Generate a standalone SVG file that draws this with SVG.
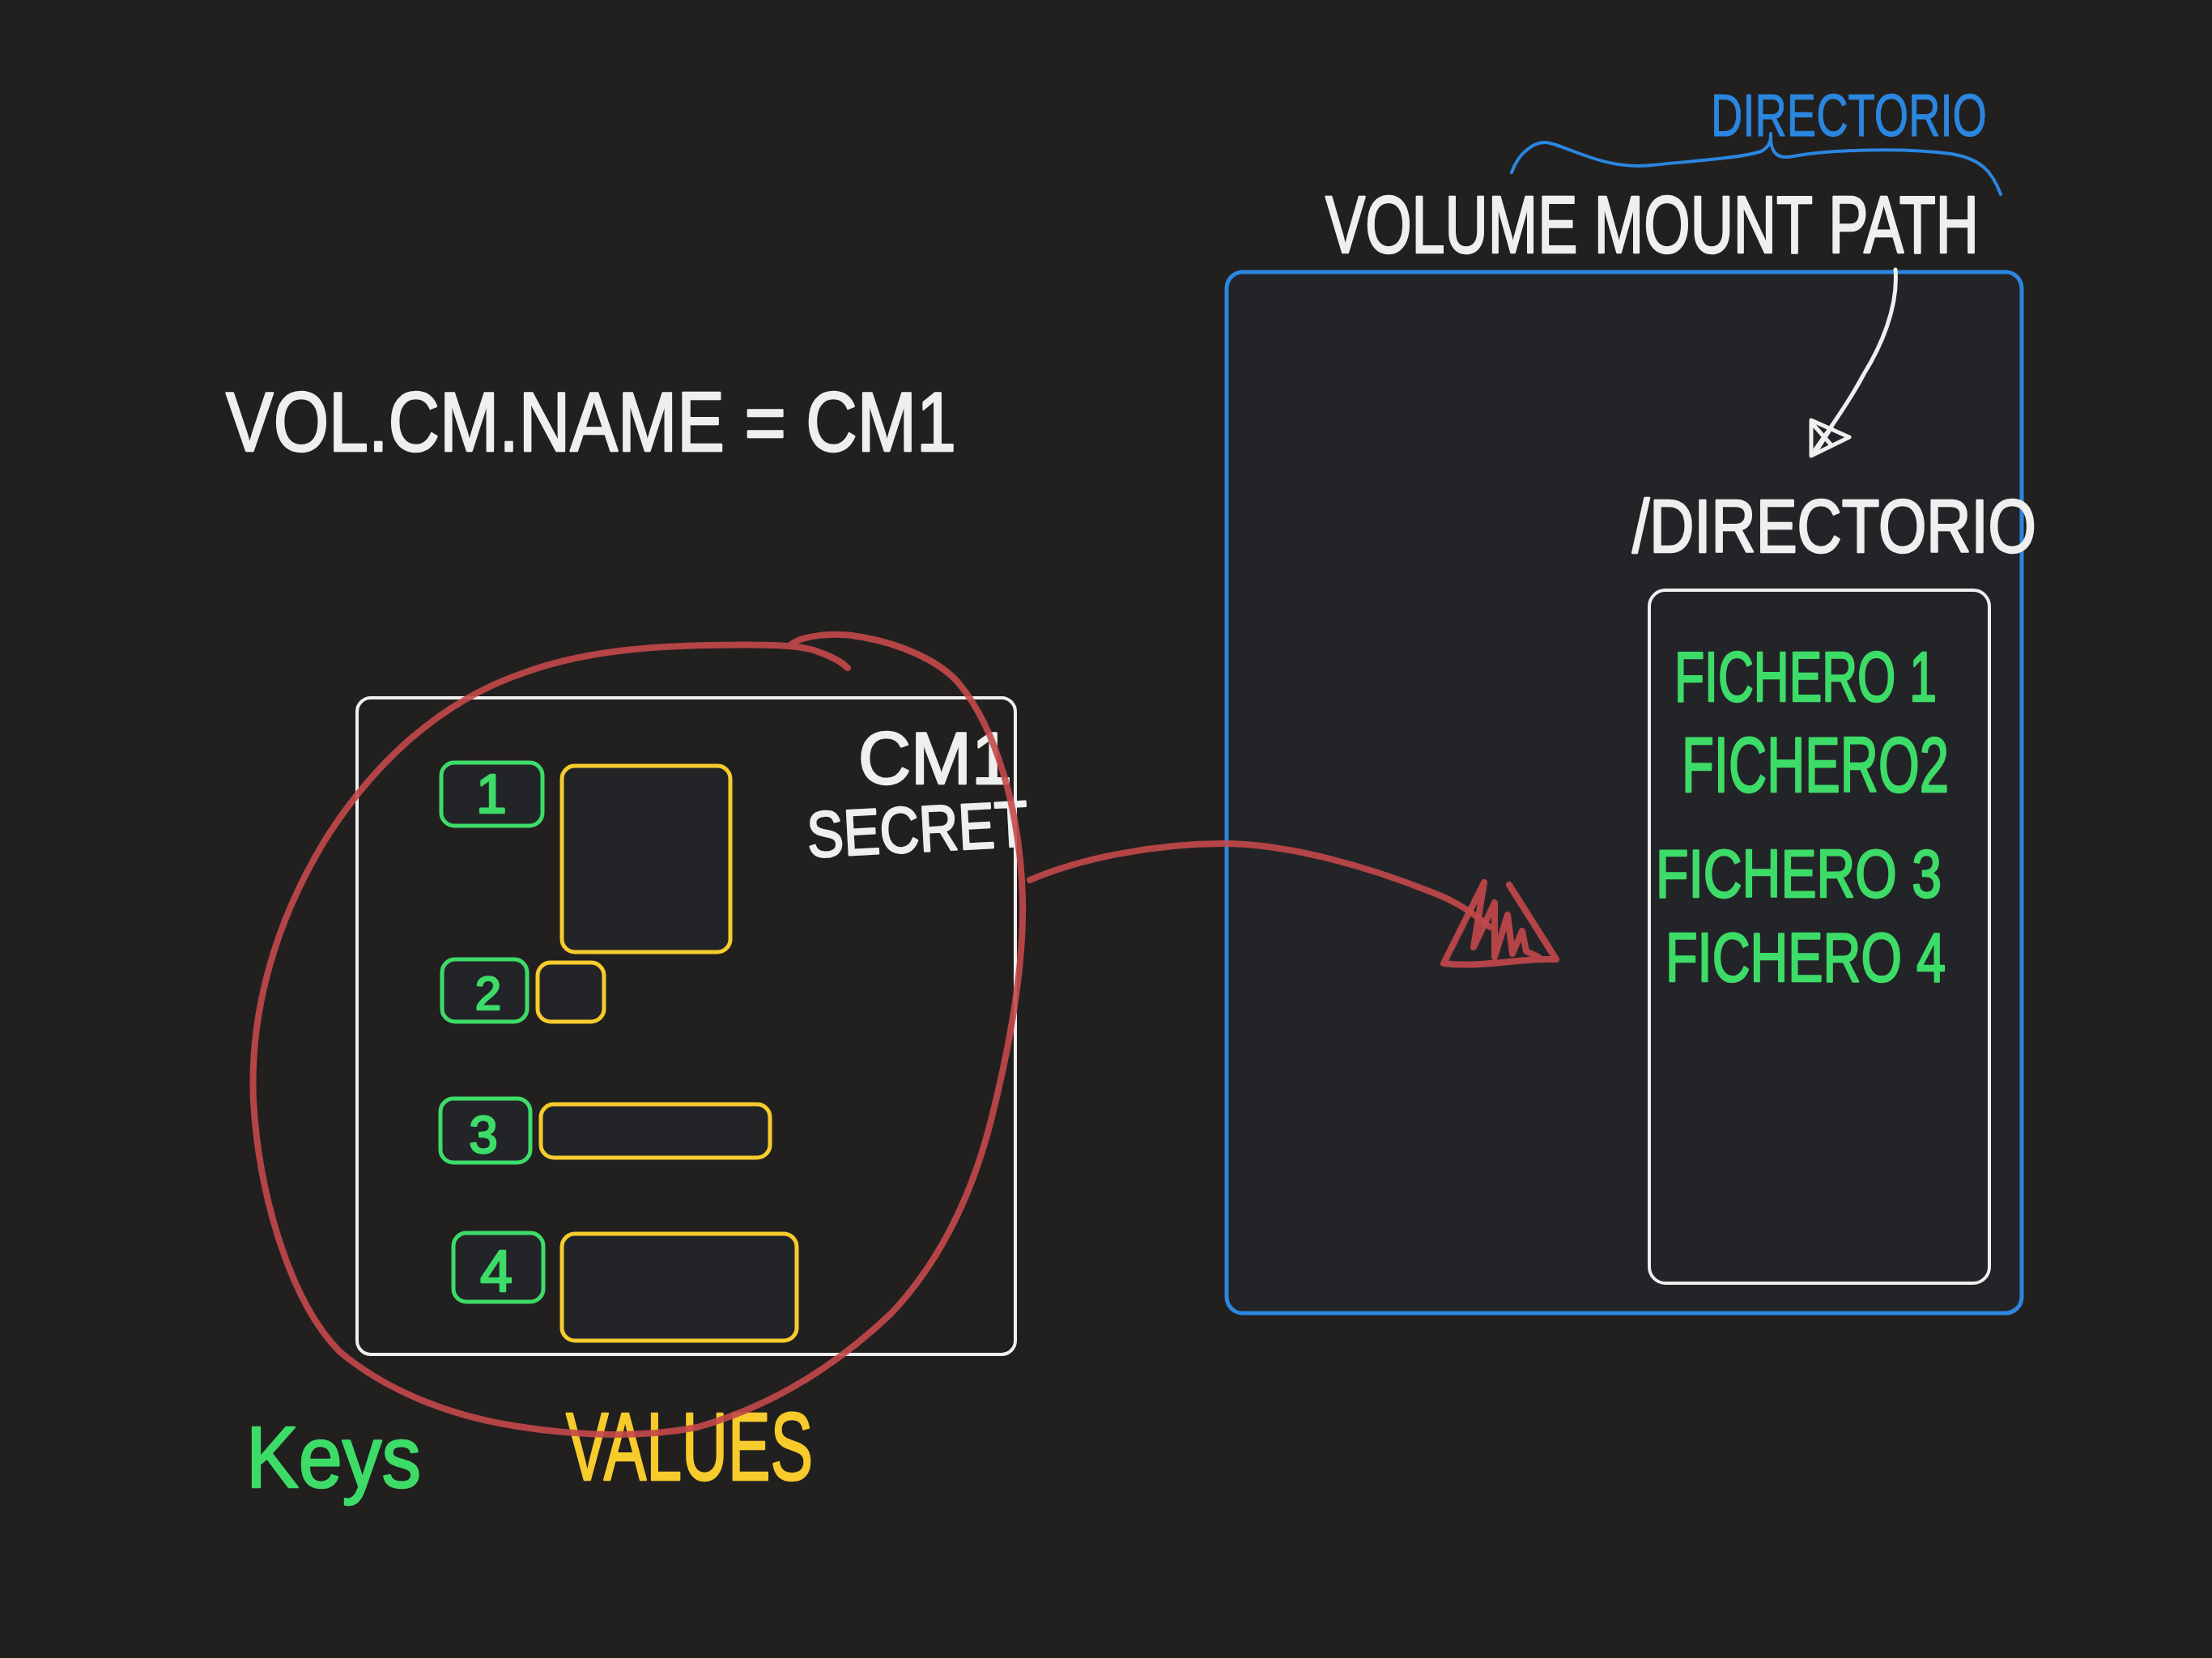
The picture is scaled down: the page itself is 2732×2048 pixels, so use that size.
<svg xmlns="http://www.w3.org/2000/svg" width="2732" height="2048" viewBox="0 0 2732 2048">
  <style>
    .hand { font-family: "Liberation Sans", "DejaVu Sans", sans-serif; stroke-width: 2.5; stroke-linejoin: round; }
    .white { fill: #efefef; stroke: #efefef; }
    .green { fill: #3ddc68; stroke: #3ddc68; }
    .yellow { fill: #f7cb2c; stroke: #f7cb2c; }
    .blue { fill: #2b86e0; stroke: #2b86e0; stroke-width: 1; }
    .keybox { fill: #232428; stroke: #3ddc68; stroke-width: 5; }
    .valbox { fill: #232428; stroke: #f7cb2c; stroke-width: 5; }
    .red { fill: none; stroke: #c4484a; stroke-width: 8; stroke-linecap: round; stroke-linejoin: round; opacity: 0.9; }
    .wline { fill: none; stroke: #efefef; stroke-width: 5; stroke-linecap: round; stroke-linejoin: round; }
    .bline { fill: none; stroke: #2b86e0; stroke-width: 4; stroke-linecap: round; }
  </style>
  <rect x="0" y="0" width="2732" height="2048" fill="#21201f"/>

  <!-- title -->
  <g id="vol-cm-name">
    <text class="hand white" x="279" y="557" font-size="104" textLength="902" lengthAdjust="spacingAndGlyphs">VOL.CM.NAME = CM1</text>
  </g>

  <!-- CM1 / Secret box -->
  <g id="cm1-secret">
    <rect x="441" y="862" width="813" height="811" rx="17" fill="none" stroke="#efefef" stroke-width="4"/>
    <text class="hand white" x="1060" y="968" font-size="90" textLength="190" lengthAdjust="spacingAndGlyphs">CM1</text>
    <text class="hand white" x="997" y="1052" font-size="80" textLength="273" lengthAdjust="spacingAndGlyphs" transform="rotate(-3 1130 1030)">SECRET</text>
  </g>

  <g id="key-1">
    <rect class="keybox" x="545" y="942" width="125" height="78" rx="16"/>
    <text class="hand green" x="607" y="1004" font-size="68" text-anchor="middle">1</text>
  </g>
  <g id="value-1"><rect class="valbox" x="694" y="946" width="208" height="230" rx="16"/></g>

  <g id="key-2">
    <rect class="keybox" x="546" y="1185" width="105" height="77" rx="16"/>
    <text class="hand green" x="603" y="1247" font-size="58" text-anchor="middle">2</text>
  </g>
  <g id="value-2"><rect class="valbox" x="664" y="1189" width="82" height="73" rx="16"/></g>

  <g id="key-3">
    <rect class="keybox" x="544" y="1357" width="111" height="79" rx="16"/>
    <text class="hand green" x="597" y="1424" font-size="64" text-anchor="middle">3</text>
  </g>
  <g id="value-3"><rect class="valbox" x="668" y="1364" width="283" height="66" rx="16"/></g>

  <g id="key-4">
    <rect class="keybox" x="560" y="1523" width="111" height="85" rx="16"/>
    <text class="hand green" x="613" y="1595" font-size="72" text-anchor="middle">4</text>
  </g>
  <g id="value-4"><rect class="valbox" x="694" y="1524" width="290" height="132" rx="16"/></g>

  <g id="keys-label">
    <text class="hand green" x="304" y="1837" font-size="108" textLength="216" lengthAdjust="spacingAndGlyphs">Keys</text>
  </g>
  <g id="values-label">
    <text class="hand yellow" x="699" y="1828" font-size="118" textLength="305" lengthAdjust="spacingAndGlyphs">VALUES</text>
  </g>

  <!-- Volume (blue) box -->
  <g id="volume-box">
    <rect x="1515" y="336" width="982" height="1286" rx="20" fill="#232428" stroke="#2b86e0" stroke-width="5"/>
  </g>

  <g id="volume-mount-path">
    <text class="hand white" x="1637" y="312" font-size="100" textLength="807" lengthAdjust="spacingAndGlyphs">VOLUME MOUNT PATH</text>
    <path class="bline" d="M 1867 213 C 1875 190, 1895 172, 1915 177 C 1945 185, 1985 210, 2040 204 C 2100 198, 2150 195, 2175 187 C 2183 183, 2188 176, 2187 165 M 2187 165 C 2186 185, 2192 198, 2215 193 C 2260 185, 2350 182, 2410 190 C 2445 196, 2460 210, 2471 240"/>
    <text class="hand blue" x="2113" y="168" font-size="74" textLength="341" lengthAdjust="spacingAndGlyphs">DIRECTORIO</text>
  </g>

  <g id="directorio-label">
    <text class="hand white" x="2016" y="682" font-size="92" textLength="499" lengthAdjust="spacingAndGlyphs">/DIRECTORIO</text>
  </g>

  <g id="directorio-box">
    <rect x="2037" y="729" width="420" height="856" rx="20" fill="#232428" stroke="#efefef" stroke-width="4"/>
    <text class="hand green" x="2068" y="866" font-size="88" textLength="324" lengthAdjust="spacingAndGlyphs">FICHERO 1</text>
    <text class="hand green" x="2077" y="978" font-size="96" textLength="330" lengthAdjust="spacingAndGlyphs">FICHERO2</text>
    <text class="hand green" x="2045" y="1108" font-size="84" textLength="353" lengthAdjust="spacingAndGlyphs">FICHERO 3</text>
    <text class="hand green" x="2057" y="1212" font-size="86" textLength="346" lengthAdjust="spacingAndGlyphs">FICHERO 4</text>
  </g>

  <!-- connectors -->
  <g id="connectors">
    <!-- lasso around CM1 -->
    <path class="red" d="M 976 797 C 990 785, 1030 780, 1065 787 C 1110 795, 1160 815, 1185 845 C 1230 900, 1260 1000, 1263 1110 C 1265 1200, 1245 1300, 1225 1380 C 1200 1480, 1160 1560, 1100 1623 C 1040 1680, 960 1735, 861 1763 C 800 1775, 720 1775, 640 1762 C 560 1750, 480 1720, 420 1670 C 360 1610, 320 1480, 313 1360 C 308 1250, 340 1140, 400 1040 C 450 960, 530 870, 650 830 C 720 805, 800 798, 880 797 C 940 796, 990 796, 1010 805 C 1025 810, 1040 818, 1047 825"/>
    <!-- red arrow to volume -->
    <path class="red" d="M 1272 1087 C 1330 1062, 1420 1042, 1513 1042 C 1600 1043, 1700 1075, 1763 1100 C 1790 1110, 1810 1120, 1840 1145"/>
    <path class="red" d="M 1833 1090 L 1783 1190 C 1830 1196, 1880 1183, 1922 1185 L 1864 1093 M 1833 1090 L 1820 1170 L 1846 1115 L 1846 1182 L 1862 1130 L 1868 1178 L 1880 1150 L 1885 1175 L 1900 1182"/>
    <!-- white arrow -->
    <path class="wline" d="M 2341 333 C 2345 380, 2322 430, 2302 462 C 2282 500, 2256 535, 2240 558"/>
    <path class="wline" d="M 2237 519 L 2284 540 L 2237 563 Z M 2240 525 L 2262 550 M 2244 556 L 2262 528"/>
  </g>
</svg>
